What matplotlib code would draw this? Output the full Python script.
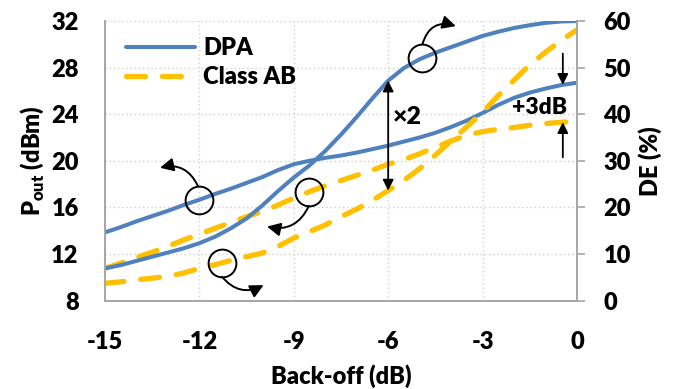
import numpy as np
import matplotlib
matplotlib.use("Agg")
import matplotlib.pyplot as plt

plt.rcParams['font.family'] = ['Lato', 'DejaVu Sans']
plt.rcParams['font.weight'] = 'heavy'
plt.rcParams['mathtext.fontset'] = 'custom'
plt.rcParams['mathtext.rm'] = 'Lato:heavy'
plt.rcParams['axes.unicode_minus'] = False

# back-off points (dB)
backoff = [-15, -14.5, -14, -13.5, -13, -12.5, -12, -11.5, -11, -10.5, -10, -9.5, -9, -8.5, -8, -7.5,
           -7, -6.5, -6, -5.5, -5, -4.5, -4, -3.5, -3, -2.5, -2, -1.5, -1, -0.5, 0]

# output power (dBm), left axis
dpa_pout = [13.85, 14.3, 14.8, 15.25, 15.7, 16.2, 16.65, 17.15, 17.6, 18.1, 18.6, 19.2, 19.7, 20.0, 20.25, 20.45,
            20.7, 21.0, 21.3, 21.65, 22.0, 22.4, 22.9, 23.45, 24.1, 24.8, 25.4, 25.85, 26.2, 26.5, 26.7]
ab_pout = [10.77, 11.2, 11.7, 12.15, 12.65, 13.2, 13.7, 14.2, 14.7, 15.2, 15.65, 16.2, 16.8, 17.35, 17.85, 18.3,
           18.75, 19.2, 19.7, 20.1, 20.6, 21.15, 21.7, 22.2, 22.5, 22.7, 22.85, 23.05, 23.2, 23.3, 23.4]

# drain efficiency (%), right axis
dpa_de = [6.9, 7.6, 8.5, 9.4, 10.3, 11.2, 12.3, 13.7, 15.5, 17.6, 20.4, 23.5, 26.4, 29.0, 32.1, 35.6,
          39.4, 43.4, 47.2, 49.9, 51.8, 53.2, 54.4, 55.6, 56.8, 57.7, 58.5, 59.1, 59.6, 59.9, 60.0]
ab_de = [3.7, 4.0, 4.45, 4.8, 5.2, 5.9, 6.9, 7.7, 8.6, 9.4, 10.2, 11.6, 13.4, 14.8, 16.2, 18.0,
         19.6, 21.5, 23.6, 25.8, 28.3, 31.2, 34.3, 37.3, 40.4, 44.0, 47.3, 50.6, 53.3, 55.9, 58.1]

x_ticks = [-15, -12, -9, -6, -3, 0]
pout_ticks = [8, 12, 16, 20, 24, 28, 32]
de_ticks = [0, 10, 20, 30, 40, 50, 60]

blue = '#4F81BD'
yellow = '#FFC000'
grey = '#A6A6A6'
fs = 17

fig = plt.figure(figsize=(6.8, 3.89), dpi=100)
ax = fig.add_axes([0.1544, 0.2275, 0.6941, 0.7185])
ax2 = ax.twinx()

# curves
ax.plot(backoff, dpa_pout, color=blue, lw=2.9, solid_capstyle='round', label='DPA')
ax2.plot(backoff, dpa_de, color=blue, lw=2.9, solid_capstyle='round')
ax.plot(backoff, ab_pout, color=yellow, lw=3.8, dashes=(3.6, 3.2), dash_capstyle='round', label='Class AB')
ax2.plot(backoff, ab_de, color=yellow, lw=3.8, dashes=(3.6, 3.2), dash_capstyle='round')

ax.set_xlim(-15, 0)
ax.set_ylim(8, 32)
ax2.set_ylim(0, 60)
ax.set_xticks(x_ticks)
ax.set_yticks(pout_ticks)
ax2.set_yticks(de_ticks)

ax.grid(True, color='#D0D0D0', linestyle=(0, (1, 2)), lw=1.0)
ax.set_axisbelow(True)

for a in (ax, ax2):
    a.spines['top'].set_visible(False)
    for s in ('left', 'right', 'bottom'):
        a.spines[s].set_color(grey)
        a.spines[s].set_linewidth(1.2)
ax.tick_params(axis='x', length=0, pad=22, labelsize=fs)
ax.tick_params(axis='y', length=0, pad=19, labelsize=fs)
ax2.tick_params(axis='y', length=6, width=1.2, color=grey, pad=13, labelsize=fs)

ax.set_xlabel('Back-off (dB)', fontsize=fs, fontweight='heavy', labelpad=8)
ax.set_ylabel(r'P$_{\mathrm{out}}$ (dBm)', fontsize=fs, fontweight='heavy', labelpad=4)
ax2.set_ylabel('DE (%)', fontsize=fs, fontweight='heavy', labelpad=5)

leg = ax.legend(loc='upper left', bbox_to_anchor=(0.005, 1.01), frameon=False, fontsize=fs,
                handlelength=2.9, handletextpad=0.35, labelspacing=0.3, borderaxespad=0.4)

# circles marking which axis each curve belongs to
ring = dict(marker='o', ms=20, mfc='none', mec='black', mew=1.4, ls='none')
c1 = (-12.0, np.interp(-12.0, backoff, dpa_pout))
c2 = (-8.52, np.interp(-8.52, backoff, ab_pout))
c3 = (-11.28, np.interp(-11.28, backoff, ab_de))
c4 = (-4.91, np.interp(-4.91, backoff, dpa_de))
ax.plot(*c1, **ring)
ax.plot(*c2, **ring)
ax2.plot(*c3, **ring)
ax2.plot(*c4, **ring)

def curved(a, start, end, rad):
    a.annotate('', xy=end, xytext=start,
               arrowprops=dict(arrowstyle='-|>', connectionstyle='arc3,rad=%s' % rad,
                               color='black', lw=1.4, mutation_scale=20, shrinkA=0, shrinkB=0))

curved(ax, (c1[0] - 0.05, c1[1] + 1.2), (-13.25, 19.4), 0.4)
curved(ax, (c2[0], c2[1] - 1.2), (-9.85, 14.35), -0.4)
curved(ax2, (c3[0], c3[1] - 3.0), (-9.96, 3.3), 0.4)
curved(ax2, (c4[0], c4[1] + 3.0), (-3.85, 58.9), -0.5)

# x2 arrow at -6 dB
arrow = dict(arrowstyle='<|-|>', color='black', lw=1.3, mutation_scale=16, shrinkA=0, shrinkB=0)
ax2.annotate('', xy=(-6, np.interp(-6, backoff, dpa_de)), xytext=(-6, np.interp(-6, backoff, ab_de)),
             arrowprops=arrow)
ax.text(-5.85, 23.8, '×2', fontsize=fs + 1, fontweight='heavy', ha='left', va='center')

# +3dB arrows near 0 dB
one = dict(arrowstyle='-|>', color='black', lw=1.3, mutation_scale=16, shrinkA=0, shrinkB=0)
ax.annotate('', xy=(-0.45, np.interp(-0.45, backoff, dpa_pout)), xytext=(-0.45, 29.2), arrowprops=one)
ax.annotate('', xy=(-0.45, np.interp(-0.45, backoff, ab_pout)), xytext=(-0.45, 20.3), arrowprops=one)
ax.text(-1.2, 24.6, '+3dB', fontsize=fs - 0.5, fontweight='heavy', ha='center', va='center')

fig.savefig('out.png', dpi=100)
